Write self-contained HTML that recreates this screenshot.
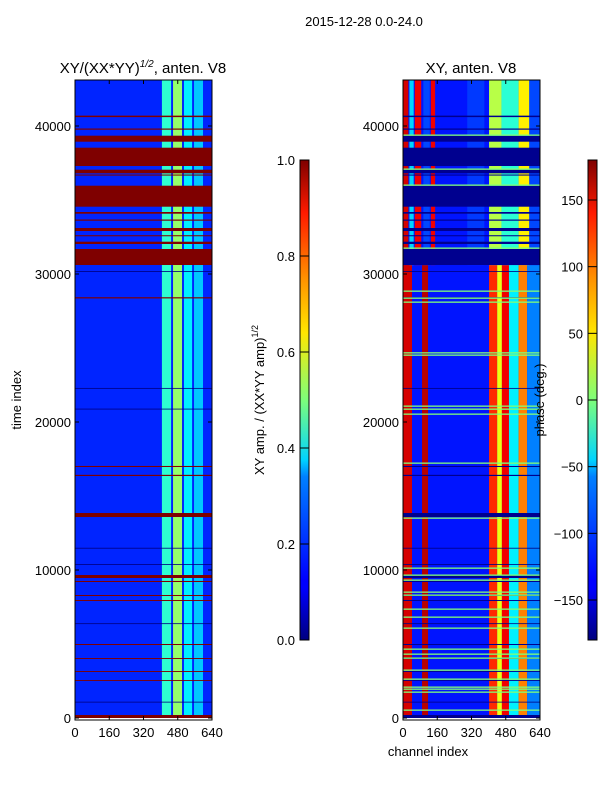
<!DOCTYPE html>
<html><head><meta charset="utf-8">
<style>
html,body{margin:0;padding:0;background:#fff;}
svg{display:block;font-family:"Liberation Sans","DejaVu Sans",sans-serif;}
</style></head>
<body>
<svg id="fig" width="600" height="800" viewBox="0 0 600 800" xmlns="http://www.w3.org/2000/svg">
<rect width="600" height="800" fill="#fff"/>
<text x="364" y="26" font-size="13" text-anchor="middle">2015-12-28 0.0-24.0</text>
<text x="143" y="73" font-size="15" text-anchor="middle">XY/(XX*YY)<tspan dy="-6" font-size="10" font-style="italic">1/2</tspan><tspan dy="6">, anten. V8</tspan></text>
<text x="471" y="73" font-size="15" text-anchor="middle">XY, anten. V8</text>
<g id="left"></g>
<g id="right"></g>
<g id="axes"></g>
<text transform="translate(21,400) rotate(-90)" font-size="13" text-anchor="middle">time index</text>
<text x="428" y="756" font-size="13" text-anchor="middle">channel index</text>
<text transform="translate(264,400) rotate(-90)" font-size="13" text-anchor="middle">XY amp. / (XX*YY amp)<tspan dy="-6" font-size="9">1/2</tspan></text>
<text transform="translate(544,400) rotate(-90)" font-size="13" text-anchor="middle">phase (deg.)</text>
<defs>
<linearGradient id="jet" x1="0" y1="1" x2="0" y2="0">
<stop offset="0" stop-color="#00007f"/><stop offset="0.11" stop-color="#0000ff"/><stop offset="0.125" stop-color="#0000ff"/>
<stop offset="0.34" stop-color="#0080ff"/><stop offset="0.375" stop-color="#00d4ff"/><stop offset="0.5" stop-color="#7dff7a"/>
<stop offset="0.64" stop-color="#ffe600"/><stop offset="0.75" stop-color="#ff9400"/><stop offset="0.89" stop-color="#ff1a00"/>
<stop offset="1" stop-color="#7f0000"/></linearGradient>
</defs>
<rect x="300" y="160" width="9" height="480" fill="url(#jet)" stroke="#000" stroke-width="1"/>
<rect x="588" y="160" width="9" height="480" fill="url(#jet)" stroke="#000" stroke-width="1"/>
<g id="cbticks"></g>
</svg>
<script>
// ---- data ----
var timeTicks = [0, 10000, 20000, 30000, 40000];
var chanTicks = [0, 160, 320, 480, 640];
var ampTicks = [0.0, 0.2, 0.4, 0.6, 0.8, 1.0];
var phaseTicks = [-150, -100, -50, 0, 50, 100, 150];
// amplitude column bands
var ampBandStart = [406, 458, 509, 556];
var ampBandEnd = [449, 500, 547, 598];
var ampBandVal = [0.42, 0.52, 0.36, 0.32];
var ampBase = 0.16;
// flagged time ranges
var flagStart = [40600, 39750, 38939, 37297, 36804, 36650, 34547, 34074, 33600, 32905, 32550, 32027, 30608, 28350, 16959, 16351, 13581, 9459, 9189, 8243, 7905, 4932, 3986, 3108, 2500, 0];
var flagEnd = [40700, 39830, 39345, 38534, 37047, 36720, 35966, 34189, 33680, 33108, 32620, 32182, 31689, 28430, 17030, 16430, 13851, 9662, 9260, 8310, 7970, 5000, 4050, 3170, 2560, 203];
// phase column bands, lower era
var phLowStart = [0, 89, 402, 440, 462, 495, 540, 580];
var phLowEnd = [42, 117, 440, 462, 495, 540, 580, 640];
var phLowVal = [150, 160, 120, 40, 140, -50, 90, -90];
// phase column bands, upper era
var phUpStart = [0, 30, 55, 95, 130, 300, 402, 460, 540, 590];
var phUpEnd = [25, 50, 85, 125, 150, 380, 460, 540, 590, 640];
var phUpVal = [150, -60, 140, -110, 140, -115, 20, -30, 50, -110];
var phaseBase = -128;
var greenLines = [39392, 37095, 36014, 31757, 28851, 28378, 28108, 24682, 24527, 21081, 20878, 20541, 17230, 13514, 10135, 9662, 9324, 8514, 8311, 7365, 6824, 6081, 4662, 4324, 4054, 3243, 2635, 2095, 1959, 1757, 541];
var darkLines = [30200, 22300, 20900, 11500, 10400, 6400, 1100];

// ---- axis functions ----
var NS = "http://www.w3.org/2000/svg";
var TMAX = 43100;
function yT(t){ return 718 - t * 0.0148; }
function xL(c){ return 75 + c * 137 / 640; }
function xR(c){ return 403 + c * 137 / 640; }
function jet(v){
  v = Math.max(0, Math.min(1, v));
  function cl(a){ return Math.round(255 * Math.max(0, Math.min(1, a))); }
  return "rgb(" + cl(1.5 - Math.abs(4*v-3)) + "," + cl(1.5 - Math.abs(4*v-2)) + "," + cl(1.5 - Math.abs(4*v-1)) + ")";
}
function ph(d){ return jet((d + 180) / 360); }
function rect(g, x, y, w, h, fill, name){
  var r = document.createElementNS(NS, "rect");
  r.setAttribute("x", x); r.setAttribute("y", y);
  r.setAttribute("width", Math.max(w, 0.1)); r.setAttribute("height", Math.max(h, 0.8));
  r.setAttribute("fill", fill);
  
  
  g.appendChild(r); return r;
}
function line(g, x1, y1, x2, y2, stroke, name){
  var l = document.createElementNS(NS, "line");
  l.setAttribute("x1", x1); l.setAttribute("y1", y1); l.setAttribute("x2", x2); l.setAttribute("y2", y2);
  l.setAttribute("stroke", stroke);
  
  
  g.appendChild(l);
}
function text(g, x, y, s, anchor, name){
  var t = document.createElementNS(NS, "text");
  t.setAttribute("x", x); t.setAttribute("y", y); t.setAttribute("font-size", "13");
  t.setAttribute("text-anchor", anchor); t.textContent = s;
  
  
  g.appendChild(t);
}

// ---- left: amplitude ----
var L = document.getElementById("left");
rect(L, xL(0), yT(TMAX), 137, yT(0) - yT(TMAX), jet(ampBase), "amp-base");
for (var i = 0; i < ampBandStart.length; i++) {
  rect(L, xL(ampBandStart[i]), yT(TMAX), xL(ampBandEnd[i]) - xL(ampBandStart[i]), yT(0) - yT(TMAX), jet(ampBandVal[i]), "amp-band");
}
for (var i = 0; i < darkLines.length; i++) {
  rect(L, xL(0), yT(darkLines[i]), 137, 0.8, "#000080", "amp-dark-line");
}
for (var i = 0; i < flagStart.length; i++) {
  rect(L, xL(0), yT(flagEnd[i]), 137, yT(flagStart[i]) - yT(flagEnd[i]), "#7f0000", "amp-flag");
}

// ---- right: phase ----
var R = document.getElementById("right");
rect(R, xR(0), yT(TMAX), 137, yT(0) - yT(TMAX), ph(phaseBase), "phase-base");
var era = 30600;
for (var i = 0; i < phLowStart.length; i++) {
  rect(R, xR(phLowStart[i]), yT(era), xR(phLowEnd[i]) - xR(phLowStart[i]), yT(0) - yT(era), ph(phLowVal[i]), "phase-band-lower");
}
for (var i = 0; i < phUpStart.length; i++) {
  rect(R, xR(phUpStart[i]), yT(TMAX), xR(phUpEnd[i]) - xR(phUpStart[i]), yT(era) - yT(TMAX), ph(phUpVal[i]), "phase-band-upper");
}
for (var i = 0; i < flagStart.length; i++) {
  rect(R, xR(0), yT(flagEnd[i]), 137, yT(flagStart[i]) - yT(flagEnd[i]), "#00008f", "phase-flag");
}
for (var i = 0; i < darkLines.length; i++) {
  rect(R, xR(0), yT(darkLines[i]), 137, 0.8, "#000080", "phase-dark-line");
}
for (var i = 0; i < greenLines.length; i++) {
  rect(R, xR(0), yT(greenLines[i]) - 0.5, 137, 1.3, "#80ff78", "phase-green-line");
}

// ---- axes ----
var A = document.getElementById("axes");
[["left-frame", 75], ["right-frame", 403]].forEach(function(p){
  var r = document.createElementNS(NS, "rect");
  r.setAttribute("x", p[1]); r.setAttribute("y", 80); r.setAttribute("width", 137); r.setAttribute("height", 640);
  r.setAttribute("fill", "none"); r.setAttribute("stroke", "#000");
  
  
  A.appendChild(r);
});
for (var i = 0; i < timeTicks.length; i++) {
  var y = yT(timeTicks[i]);
  text(A, 71, y + 5, String(timeTicks[i]), "end", "y-tick-label-left");
  text(A, 399, y + 5, String(timeTicks[i]), "end", "y-tick-label-right");
  line(A, 75, y, 79, y, "#000", "y-tick"); line(A, 208, y, 212, y, "#000", "y-tick");
  line(A, 403, y, 407, y, "#000", "y-tick"); line(A, 536, y, 540, y, "#000", "y-tick");
}
for (var i = 0; i < chanTicks.length; i++) {
  text(A, xL(chanTicks[i]), 737, String(chanTicks[i]), "middle", "x-tick-label-left");
  text(A, xR(chanTicks[i]), 737, String(chanTicks[i]), "middle", "x-tick-label-right");
  line(A, xL(chanTicks[i]), 720, xL(chanTicks[i]), 716, "#000", "x-tick");
  line(A, xL(chanTicks[i]), 80, xL(chanTicks[i]), 84, "#000", "x-tick");
  line(A, xR(chanTicks[i]), 720, xR(chanTicks[i]), 716, "#000", "x-tick");
  line(A, xR(chanTicks[i]), 80, xR(chanTicks[i]), 84, "#000", "x-tick");
}
var C = document.getElementById("cbticks");
for (var i = 0; i < ampTicks.length; i++) {
  var y = 640 - ampTicks[i] * 480;
  text(C, 295, y + 5, ampTicks[i].toFixed(1), "end", "amp-colorbar-tick-label");
  line(C, 300, y, 309, y, "#000", "amp-colorbar-tick");
}
for (var i = 0; i < phaseTicks.length; i++) {
  var y = 640 - (phaseTicks[i] + 180) / 360 * 480;
  text(C, 583, y + 5, phaseTicks[i] < 0 ? "\u2212" + Math.abs(phaseTicks[i]) : String(phaseTicks[i]), "end", "phase-colorbar-tick-label");
  line(C, 588, y, 597, y, "#000", "phase-colorbar-tick");
}
</script>
</body></html>
